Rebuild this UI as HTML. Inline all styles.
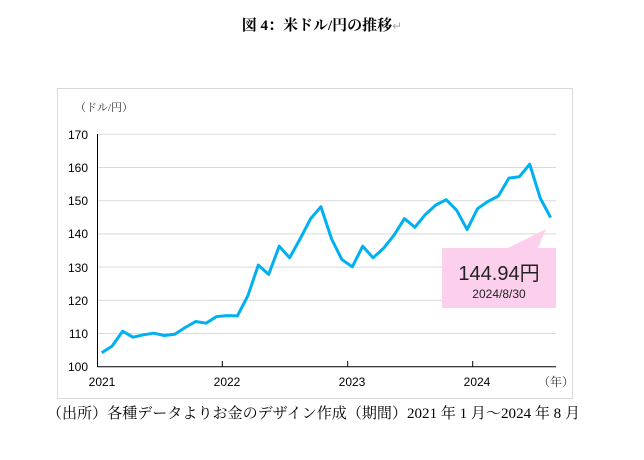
<!DOCTYPE html>
<html><head><meta charset="utf-8"><style>
html,body{margin:0;padding:0;background:#fff;}
body{width:644px;height:455px;overflow:hidden;}
</style></head><body>
<svg width="644" height="455" viewBox="0 0 644 455" xmlns="http://www.w3.org/2000/svg">
<text x="322" y="30" text-anchor="middle" font-family="'Liberation Serif','Noto Serif CJK SC',serif" font-size="15" font-weight="bold" fill="#000">図 4：米ドル/円の推移<tspan fill="#aaa" font-weight="normal" font-size="12">↵</tspan></text>
<rect x="57.5" y="88.5" width="515" height="310" fill="#fff" stroke="#d9d9d9" stroke-width="1"/>
<text x="75" y="111" font-family="'Liberation Serif','Noto Serif CJK JP',serif" font-size="11" fill="#333">（ドル/円）</text>
<g stroke="#d9d9d9" stroke-width="1">
<line x1="97.5" y1="134.3" x2="556" y2="134.3"/>
<line x1="97.5" y1="167.5" x2="556" y2="167.5"/>
<line x1="97.5" y1="200.7" x2="556" y2="200.7"/>
<line x1="97.5" y1="233.9" x2="556" y2="233.9"/>
<line x1="97.5" y1="267.1" x2="556" y2="267.1"/>
<line x1="97.5" y1="300.3" x2="556" y2="300.3"/>
<line x1="97.5" y1="333.5" x2="556" y2="333.5"/>
</g>
<g stroke="#000" stroke-width="1">
<line x1="97.5" y1="134" x2="97.5" y2="367"/>
<line x1="97.5" y1="366.7" x2="556" y2="366.7"/>
<line x1="222.3" y1="361" x2="222.3" y2="367"/>
<line x1="347.7" y1="361" x2="347.7" y2="367"/>
<line x1="472.7" y1="361" x2="472.7" y2="367"/>
</g>
<g font-family="'Liberation Sans',sans-serif" font-size="12" fill="#000" text-anchor="end">
<text x="88" y="139">170</text><text x="88" y="172">160</text><text x="88" y="205">150</text>
<text x="88" y="238">140</text><text x="88" y="272">130</text><text x="88" y="305">120</text>
<text x="88" y="338">110</text><text x="88" y="371">100</text>
</g>
<g font-family="'Liberation Sans',sans-serif" font-size="12" fill="#000" text-anchor="middle">
<text x="102" y="386">2021</text><text x="227" y="386">2022</text><text x="352" y="386">2023</text><text x="477" y="386">2024</text>
</g>
<text x="538" y="386" font-family="'Liberation Serif','Noto Serif CJK JP',serif" font-size="12" fill="#333">（年）</text>
<polyline fill="none" stroke="#00b0f0" stroke-width="3" stroke-linejoin="round" points="101.7,352.8 112.1,346.1 122.6,331.2 133.0,337.2 143.5,334.8 153.9,333.2 164.3,335.5 174.8,334.2 185.2,327.5 195.7,321.5 206.1,323.2 216.5,316.6 227.0,315.6 237.4,315.9 247.9,295.7 258.3,265.1 268.7,274.4 279.2,246.2 289.6,257.8 300.1,238.9 310.5,218.9 320.9,206.7 331.4,238.5 341.8,259.5 352.3,266.8 362.7,246.2 373.1,257.8 383.6,248.2 394.0,235.2 404.5,218.6 414.9,227.3 425.3,214.6 435.8,205.0 446.2,199.7 456.7,210.3 467.1,229.6 477.5,208.7 488.0,201.4 498.4,196.0 508.9,178.1 519.3,176.8 529.7,164.2 540.2,198.0 550.6,217.6"/>
<polygon points="442,248 556,248 556,308 442,308" fill="#fcd0ec"/>
<polygon points="508,248 538,248 546,229" fill="#fcd0ec"/>
<text x="499" y="280" text-anchor="middle" font-family="'Liberation Sans','Noto Sans CJK JP',sans-serif" font-size="20" fill="#222">144.94円</text>
<text x="499" y="298" text-anchor="middle" font-family="'Liberation Sans',sans-serif" font-size="12" fill="#222">2024/8/30</text>
<text x="47" y="418" textLength="533" lengthAdjust="spacingAndGlyphs" font-family="'Liberation Serif','Noto Serif CJK JP',serif" font-size="15" fill="#000">（出所）各種データよりお金のデザイン作成（期間）2021 年 1 月～2024 年 8 月</text>
</svg>
</body></html>
